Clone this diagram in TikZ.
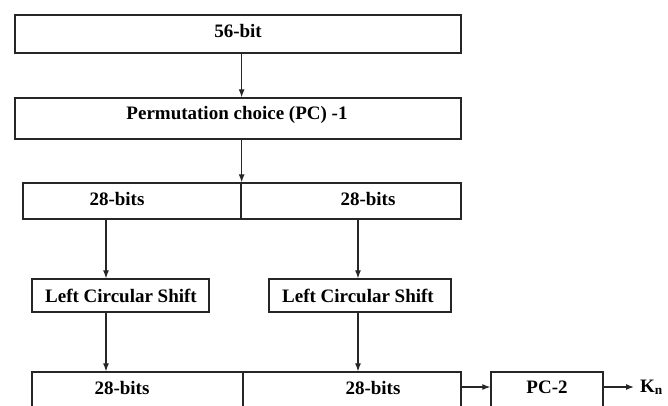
\documentclass[tikz,border=0pt]{standalone}
\usepackage{fontspec}
\setmainfont{Liberation Serif}
\usetikzlibrary{arrows.meta}

\begin{document}
\begin{tikzpicture}[x=1pt, y=-1pt, >={Latex[length=8pt,width=6pt]},
  blk/.style={draw=black!85, line width=1.3pt, inner sep=0pt},
  txt/.style={font=\fontsize{19}{22}\selectfont\bfseries, inner sep=0pt, anchor=base},
  conn/.style={->, draw=black!85, line width=1.2pt}]
  \clip (0,0) rectangle (668,405);
  % Key and PC-1
  \node[blk, minimum width=446pt, minimum height=38pt] (key) at (238,34) {};
  \node[txt] (keyt) at (238,37) {56-bit};
  \node[blk, minimum width=446pt, minimum height=41pt] (pc1) at (238,118.5) {};
  \node[txt] (pc1t) at (237,119) {Permutation choice (PC) -1};
  % Halves after PC-1
  \node[blk, minimum width=218pt, minimum height=36pt] (lh) at (132,201) {};
  \node[blk, minimum width=220pt, minimum height=36pt] (rh) at (351,201) {};
  \node[txt] (lht) at (117,205) {28-bits};
  \node[txt] (rht) at (368,205) {28-bits};
  % Shifts
  \node[blk, minimum width=177pt, minimum height=33pt] (ls1) at (120.5,295.5) {};
  \node[blk, minimum width=182pt, minimum height=33pt] (ls2) at (360,295.5) {};
  \node[txt] (ls1t) at (121,302) {Left Circular Shift};
  \node[txt] (ls2t) at (358,302) {Left Circular Shift};
  % Shifted halves and PC-2 (cut at the bottom edge)
  \node[blk, minimum width=211pt, minimum height=40pt] (bl) at (137.5,392) {};
  \node[blk, minimum width=218pt, minimum height=40pt] (br) at (352,392) {};
  \node[txt] (blt) at (122,394) {28-bits};
  \node[txt] (brt) at (373,394) {28-bits};
  \node[blk, minimum width=112pt, minimum height=40pt] (pc2) at (547,392) {};
  \node[txt] (pc2t) at (547,393) {PC-2};
  \node[txt, anchor=base west] (kn) at (640,392) {K\textsubscript{n}};
  % Connectors
  \coordinate (colA) at (106,0);
  \coordinate (colB) at (358,0);
  \coordinate (rowK) at (0,387);
  \draw[conn] (key.south -| lh.east) -- (pc1.north -| lh.east);
  \draw[conn] (pc1.south -| lh.east) -- (lh.north east);
  \draw[conn] (lh.south -| colA) -- (ls1.north -| colA);
  \draw[conn] (rh.south -| colB) -- (ls2.north -| colB);
  \draw[conn] (ls1.south -| colA) -- (bl.north -| colA);
  \draw[conn] (ls2.south -| colB) -- (br.north -| colB);
  \draw[conn] (br.east |- rowK) -- (pc2.west |- rowK);
  \draw[conn, shorten >=6pt] (pc2.east |- rowK) -- (kn.west |- rowK);
\end{tikzpicture}
\end{document}
